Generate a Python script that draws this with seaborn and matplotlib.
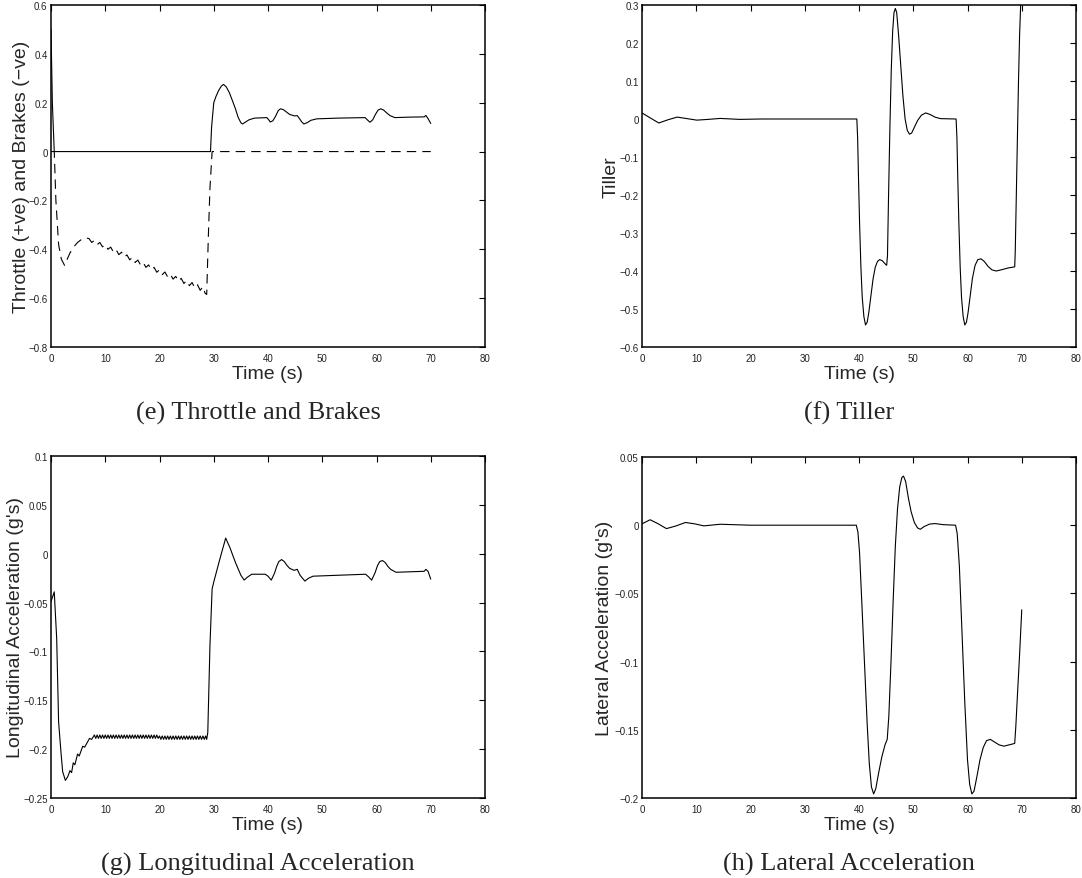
import matplotlib
matplotlib.use("Agg")
import matplotlib.pyplot as plt
import seaborn as sns

# ---- (e) throttle (solid) and brakes (dashed) ----
throttle_t = [0.0, 0.25, 0.6, 29.4, 29.6, 30.0, 30.4, 30.9, 31.4, 31.8, 32.3, 32.9,
              33.5, 34.0, 34.5, 35.0, 35.3, 35.8, 36.5, 37.5, 39.8, 40.2, 40.4, 40.9,
              41.4, 41.9, 42.3, 42.8, 43.4, 44.0, 44.9, 45.4, 45.8, 46.2, 46.6, 47.2,
              47.9, 49.0, 53.0, 57.9, 58.4, 58.8, 59.3, 59.8, 60.3, 60.8, 61.3, 61.9,
              62.5, 63.4, 66.0, 68.8, 69.1, 69.5, 70.0]
throttle_v = [0.5, 0.2, 0.0, 0.0, 0.1, 0.2, 0.225, 0.25, 0.268, 0.275, 0.265, 0.24,
              0.205, 0.175, 0.14, 0.118, 0.113, 0.12, 0.13, 0.137, 0.139, 0.128, 0.121, 0.126,
              0.145, 0.168, 0.175, 0.172, 0.162, 0.152, 0.146, 0.147, 0.135, 0.122, 0.113, 0.118,
              0.128, 0.134, 0.137, 0.139, 0.128, 0.12, 0.13, 0.152, 0.17, 0.175, 0.17, 0.158,
              0.147, 0.139, 0.141, 0.142, 0.148, 0.135, 0.115]

brake_t = [0.0, 0.6, 0.9, 1.4, 1.9, 2.5, 3.0, 3.5, 4.2, 4.9, 5.6, 6.3,
           7.0, 7.5, 8.0, 8.5, 9.0, 9.5, 10.0, 10.5, 11.0, 11.5, 12.0, 12.5, 13.0, 13.5,
           14.0, 14.5, 15.0, 15.5, 16.0, 16.5, 17.0, 17.5, 18.0, 18.5, 19.0, 19.5, 20.0,
           20.5, 21.0, 21.5, 22.0, 22.5, 23.0, 23.5, 24.0, 24.5, 25.0, 25.5, 26.0, 26.5,
           27.0, 27.5, 28.0, 28.4, 28.7, 29.0, 29.3, 29.7, 70.0]
brake_v = [0.0, 0.0, -0.2, -0.38, -0.44, -0.466, -0.44, -0.415, -0.39, -0.372, -0.36, -0.353,
           -0.356, -0.372, -0.364, -0.381, -0.372, -0.390, -0.381, -0.400, -0.391, -0.411,
           -0.401, -0.422, -0.412, -0.432, -0.423, -0.443, -0.434, -0.454, -0.444, -0.464,
           -0.454, -0.474, -0.464, -0.484, -0.474, -0.494, -0.484, -0.504, -0.493, -0.513,
           -0.502, -0.522, -0.511, -0.531, -0.519, -0.540, -0.528, -0.549, -0.536, -0.558,
           -0.545, -0.568, -0.553, -0.580, -0.585, -0.35, -0.15, 0.0, 0.0]

# ---- (f) tiller ----
tiller_t = [0.0, 1.5, 3.1, 4.8, 6.5, 8.3, 10.1, 12.2, 14.4, 18.0, 22.0, 39.6,
            39.75, 39.9, 40.1, 40.35, 40.6, 40.9, 41.2, 41.5, 41.8, 42.2, 42.6, 43.0,
            43.4, 43.8, 44.3, 44.8, 45.1, 45.25, 45.45, 45.7, 45.95, 46.2, 46.45, 46.7,
            46.95, 47.3, 47.7, 48.1, 48.5, 48.9, 49.3, 49.7, 50.2, 50.8, 51.5, 52.3,
            53.1, 54.0, 55.0, 57.9, 58.05, 58.2, 58.4, 58.65, 58.9, 59.2, 59.5, 59.8,
            60.1, 60.5, 60.9, 61.4, 61.9, 62.5, 63.1, 63.8, 64.5, 65.3, 66.2, 67.5,
            68.7, 68.8, 69.0, 69.2, 69.4, 69.6, 69.8, 70.0]
tiller_v = [0.016, 0.003, -0.0105, -0.002, 0.005, 0.001, -0.003, -0.001, 0.0015, -0.001, 0.0, 0.0,
            -0.05, -0.15, -0.27, -0.39, -0.47, -0.52, -0.542, -0.535, -0.51, -0.465, -0.42, -0.39,
            -0.375, -0.37, -0.373, -0.381, -0.385, -0.36, -0.2, -0.02, 0.13, 0.23, 0.28, 0.291,
            0.28, 0.22, 0.14, 0.06, 0.0, -0.03, -0.04, -0.037, -0.022, -0.004, 0.01, 0.016,
            0.012, 0.005, 0.001, 0.0, -0.05, -0.15, -0.27, -0.39, -0.47, -0.52, -0.542, -0.535,
            -0.51, -0.465, -0.42, -0.385, -0.37, -0.368, -0.375, -0.388, -0.397, -0.4, -0.397, -0.392,
            -0.389, -0.35, -0.2, -0.05, 0.1, 0.22, 0.3, 0.36]

# ---- (g) longitudinal acceleration ----
long_t = [0.0, 0.6, 1.05, 1.4, 1.85, 2.15, 2.65, 3.1, 3.5, 3.8, 4.1, 4.4, 4.9, 5.2, 5.85, 6.2,
          7.1, 7.5,
          8.0, 8.25, 8.5, 8.75, 9.0, 9.25, 9.5, 9.75, 10.0, 10.25, 10.5, 10.75,
          11.0, 11.25, 11.5, 11.75, 12.0, 12.25, 12.5, 12.75, 13.0, 13.25, 13.5, 13.75,
          14.0, 14.25, 14.5, 14.75, 15.0, 15.25, 15.5, 15.75, 16.0, 16.25, 16.5, 16.75,
          17.0, 17.25, 17.5, 17.75, 18.0, 18.25, 18.5, 18.75, 19.0, 19.25, 19.5, 19.75,
          20.0, 20.25, 20.5, 20.75, 21.0, 21.25, 21.5, 21.75, 22.0, 22.25, 22.5, 22.75,
          23.0, 23.25, 23.5, 23.75, 24.0, 24.25, 24.5, 24.75, 25.0, 25.25, 25.5, 25.75,
          26.0, 26.25, 26.5, 26.75, 27.0, 27.25, 27.5, 27.75, 28.0, 28.25, 28.5,
          28.7, 28.9, 29.3, 29.7, 30.0, 31.1, 32.2, 33.0, 34.0, 35.0, 35.6, 36.2,
          37.0, 39.5, 40.0, 40.6, 41.2, 41.6, 42.0, 42.5, 43.0, 43.5, 44.0, 44.8, 45.4, 45.9,
          46.8, 47.5, 48.3, 53.0, 58.0, 58.6, 59.1, 59.7, 60.2, 60.6, 61.1, 61.6, 62.1, 62.6,
          63.6, 66.0, 68.8, 69.1, 69.5, 70.0]
long_v = [-0.049, -0.039, -0.087, -0.172, -0.204, -0.223, -0.232, -0.228, -0.222, -0.224,
          -0.214, -0.216, -0.205, -0.207, -0.197, -0.198, -0.189, -0.190,
          -0.1855, -0.1890, -0.1855, -0.1890, -0.1855, -0.1890, -0.1855, -0.1890,
          -0.1855, -0.1890, -0.1855, -0.1890, -0.1855, -0.1890, -0.1855, -0.1890,
          -0.1855, -0.1890, -0.1855, -0.1890, -0.1855, -0.1890, -0.1855, -0.1890,
          -0.1855, -0.1890, -0.1855, -0.1890, -0.1855, -0.1890, -0.1855, -0.1890,
          -0.1855, -0.1890, -0.1855, -0.1890, -0.1855, -0.1890, -0.1855, -0.1890,
          -0.1855, -0.1890, -0.1855, -0.1890, -0.1855, -0.1890, -0.1855, -0.1890,
          -0.1865, -0.1900, -0.1865, -0.1900, -0.1865, -0.1900, -0.1865, -0.1900,
          -0.1865, -0.1900, -0.1865, -0.1900, -0.1865, -0.1900, -0.1865, -0.1900,
          -0.1865, -0.1900, -0.1865, -0.1900, -0.1865, -0.1900, -0.1865, -0.1900,
          -0.1865, -0.1900, -0.1865, -0.1900, -0.1865, -0.1900, -0.1865, -0.1900,
          -0.1865, -0.1900, -0.1865,
          -0.190, -0.183, -0.094, -0.036, -0.029, -0.006, 0.016, 0.006, -0.009, -0.022,
          -0.027, -0.024, -0.021, -0.021, -0.023, -0.027, -0.020, -0.013, -0.008, -0.006,
          -0.008, -0.012, -0.015, -0.017, -0.016, -0.022, -0.028, -0.025, -0.023, -0.022,
          -0.021, -0.024, -0.027, -0.020, -0.012, -0.008, -0.007, -0.009, -0.013, -0.016,
          -0.019, -0.0185, -0.018, -0.016, -0.018, -0.026]

# ---- (h) lateral acceleration ----
lat_t = [0.0, 1.5, 3.0, 4.5, 6.3, 8.0, 9.7, 11.4, 14.4, 20.0, 39.5,
         39.8, 40.1, 40.5, 41.0, 41.5, 41.9, 42.3, 42.7, 43.1, 43.6, 44.2, 44.8, 45.2,
         45.5, 45.9, 46.3, 46.7, 47.1, 47.5, 47.9, 48.2, 48.6, 49.1, 49.6, 50.2, 50.8,
         51.3, 52.0, 53.0, 54.0, 55.5, 57.8, 58.1, 58.5, 59.0, 59.5, 60.0, 60.4, 60.8,
         61.2, 61.7, 62.3, 62.9, 63.5, 64.2, 65.0, 65.8, 66.7, 67.7, 68.7, 68.9, 69.2,
         69.6, 70.0]
lat_v = [0.001, 0.004, 0.001, -0.0025, -0.0005, 0.002, 0.001, -0.0005, 0.0007, 0.0, 0.0,
         -0.005, -0.02, -0.055, -0.1, -0.145, -0.175, -0.192, -0.197, -0.193, -0.182, -0.17, -0.161, -0.157,
         -0.14, -0.1, -0.055, -0.015, 0.012, 0.028, 0.035, 0.036, 0.032, 0.02, 0.01, 0.002, -0.002,
         -0.003, -0.001, 0.0008, 0.0012, 0.0004, 0.0, -0.006, -0.03, -0.08, -0.13, -0.172, -0.19, -0.197,
         -0.195, -0.185, -0.172, -0.163, -0.158, -0.157, -0.159, -0.161, -0.162, -0.161, -0.16, -0.148, -0.125,
         -0.095, -0.062]

time_ticks = [0, 10, 20, 30, 40, 50, 60, 70, 80]
time_labels = ["0", "10", "20", "30", "40", "50", "60", "70", "80"]

e_yticks = [-0.8, -0.6, -0.4, -0.2, 0.0, 0.2, 0.4, 0.6]
e_ylabels = ["\u22120.8", "\u22120.6", "\u22120.4", "\u22120.2", "0", "0.2", "0.4", "0.6"]
f_yticks = [-0.6, -0.5, -0.4, -0.3, -0.2, -0.1, 0.0, 0.1, 0.2, 0.3]
f_ylabels = ["\u22120.6", "\u22120.5", "\u22120.4", "\u22120.3", "\u22120.2", "\u22120.1",
             "0", "0.1", "0.2", "0.3"]
g_yticks = [-0.25, -0.2, -0.15, -0.1, -0.05, 0.0, 0.05, 0.1]
g_ylabels = ["\u22120.25", "\u22120.2", "\u22120.15", "\u22120.1", "\u22120.05", "0", "0.05", "0.1"]
h_yticks = [-0.2, -0.15, -0.1, -0.05, 0.0, 0.05]
h_ylabels = ["\u22120.2", "\u22120.15", "\u22120.1", "\u22120.05", "0", "0.05"]

sns.set_style("white")
plt.rcParams["font.family"] = ["Liberation Sans", "DejaVu Sans"]

W, H = 1082, 879
fig = plt.figure(figsize=(W / 100, H / 100), dpi=100)


def make_axes(left, top, right, bottom):
    return fig.add_axes([left / W, 1 - bottom / H, (right - left) / W, (bottom - top) / H])


ax_e = make_axes(51, 6, 485, 348)
ax_f = make_axes(642, 6, 1076, 348)
ax_g = make_axes(51, 457, 485, 799)
ax_h = make_axes(642, 458, 1076, 799)

LW = 0.8
sns.lineplot(x=throttle_t, y=throttle_v, ax=ax_e, color="black", lw=LW,
             estimator=None, sort=False)
sns.lineplot(x=brake_t, y=brake_v, ax=ax_e, color="black", lw=LW,
             estimator=None, sort=False, linestyle=(0, (8.5, 5.5)))
sns.lineplot(x=tiller_t, y=tiller_v, ax=ax_f, color="black", lw=LW,
             estimator=None, sort=False)
sns.lineplot(x=long_t, y=long_v, ax=ax_g, color="black", lw=LW,
             estimator=None, sort=False)
sns.lineplot(x=lat_t, y=lat_v, ax=ax_h, color="black", lw=LW,
             estimator=None, sort=False)

panels = [
    (ax_e, e_yticks, e_ylabels, "Throttle (+ve) and Brakes (\u2212ve)", -1.0),
    (ax_f, f_yticks, f_ylabels, "Tiller", -0.5),
    (ax_g, g_yticks, g_ylabels, "Longitudinal Acceleration (g's)", -0.5),
    (ax_h, h_yticks, h_ylabels, "Lateral Acceleration (g's)", 1.0),
]
for ax, yt, yl, ylab, lpad in panels:
    ax.set_xlim(0, 80)
    ax.set_ylim(yt[0], yt[-1])
    ax.set_xticks(time_ticks)
    ax.set_xticklabels(time_labels)
    ax.set_yticks(yt)
    ax.set_yticklabels(yl)
    ax.tick_params(direction="in", length=4, width=0.8, labelsize=7, pad=2.5,
                   top=True, right=True, colors="black", labelcolor="#222222")
    ax.tick_params(axis="x", pad=4)
    for sp in ax.spines.values():
        sp.set_visible(True)
        sp.set_linewidth(1.1)
        sp.set_color("black")
    ax.set_xlabel("Time (s)", fontsize=14, labelpad=1.5)
    ax.set_ylabel(ylab, fontsize=14, labelpad=lpad)

serif = ["Liberation Serif", "DejaVu Serif"]
fig.text(258 / W, 1 - 413 / H, "(e) Throttle and Brakes", ha="center", va="center",
         fontsize=19, family=serif)
fig.text(849 / W, 1 - 413 / H, "(f) Tiller", ha="center", va="center",
         fontsize=19, family=serif)
fig.text(258 / W, 1 - 864 / H, "(g) Longitudinal Acceleration", ha="center", va="center",
         fontsize=19, family=serif)
fig.text(849 / W, 1 - 864 / H, "(h) Lateral Acceleration", ha="center", va="center",
         fontsize=19, family=serif)

fig.savefig("out.png", dpi=100, facecolor="white")
